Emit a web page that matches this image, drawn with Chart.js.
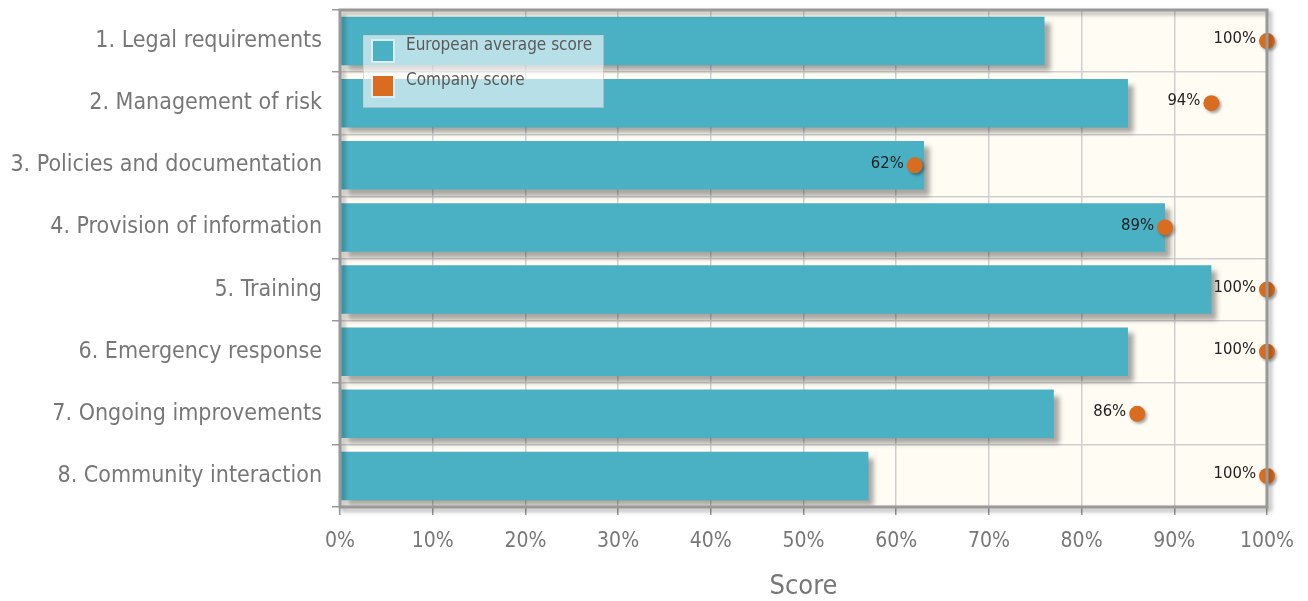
<!DOCTYPE html>
<html>
<head>
<meta charset="utf-8">
<script src="https://cdn.jsdelivr.net/npm/chart.js@4/dist/chart.umd.min.js"></script>
<style>
  html, body { margin: 0; padding: 0; background: #fff; }
  #wrap { width: 1308px; height: 601px; }
</style>
</head>
<body>
<div id="wrap"><canvas id="myChart"></canvas></div>
<script>
const categories = [
  "1. Legal requirements",
  "2. Management of risk",
  "3. Policies and documentation",
  "4. Provision of information",
  "5. Training",
  "6. Emergency response",
  "7. Ongoing improvements",
  "8. Community interaction"
];
const europeanAvg = [76, 85, 63, 89, 94, 85, 77, 57];
const companyScore = [100, 94, 62, 89, 100, 100, 86, 100];
const seriesNames = ["European average score", "Company score"];

const teal = "#4ab0c4";
const orange = "#d96c1e";
const fontName = "'DejaVu Sans Condensed', 'DejaVu Sans', sans-serif";

// cream background + frame for the plot
const plotFrame = {
  id: "plotFrame",
  beforeDraw(chart){
    const a = chart.chartArea, ctx = chart.ctx;
    ctx.save();
    ctx.fillStyle = "#fffcf4";
    ctx.fillRect(a.left, a.top, a.right - a.left, a.bottom - a.top);
    ctx.restore();
  },
  afterDatasetsDraw(chart){
    const a = chart.chartArea, ctx = chart.ctx;
    ctx.save();
    ctx.shadowColor = "rgba(0,0,0,0.35)";
    ctx.shadowOffsetX = 3;
    ctx.shadowOffsetY = 3;
    ctx.shadowBlur = 4;
    ctx.strokeStyle = "#999";
    ctx.lineWidth = 3;
    ctx.strokeRect(a.left, a.top, a.right - a.left, a.bottom - a.top);
    ctx.restore();
  }
};

// drop shadow under bars and dots
const shadows = {
  id: "shadows",
  beforeDatasetDraw(chart, args){
    const ctx = chart.ctx;
    ctx.save();
    ctx.shadowColor = "rgba(0,0,0,0.35)";
    ctx.shadowOffsetX = args.index == 0 ? 6 : 2;
    ctx.shadowOffsetY = args.index == 0 ? 6 : 2;
    ctx.shadowBlur = args.index == 0 ? 5 : 3;
  },
  afterDatasetDraw(chart){
    chart.ctx.restore();
  }
};

// value labels next to company dots
const dotLabels = {
  id: "dotLabels",
  afterDatasetsDraw(chart){
    const ctx = chart.ctx;
    const meta = chart.getDatasetMeta(1);
    ctx.save();
    ctx.font = "16.5px " + fontName;
    ctx.fillStyle = "#222";
    ctx.textAlign = "right";
    ctx.textBaseline = "middle";
    meta.data.forEach((pt, i) => {
      ctx.fillText(companyScore[i] + "%", pt.x - 11, pt.y - 2);
    });
    ctx.restore();
  }
};

// legend box inside the plot
const innerLegend = {
  id: "innerLegend",
  afterDraw(chart){
    const a = chart.chartArea, ctx = chart.ctx;
    const x = a.left + 23, y = a.top + 25;
    ctx.save();
    ctx.fillStyle = "rgba(255,255,255,0.6)";
    ctx.fillRect(x, y, 240, 72);
    ctx.strokeStyle = "rgba(200,200,200,0.7)";
    ctx.lineWidth = 1;
    ctx.strokeRect(x + 0.5, y + 0.5, 240, 72);
    const cols = [teal, orange];
    ctx.font = "17px " + fontName;
    ctx.textBaseline = "middle";
    chart.data.datasets.forEach((ds, i) => {
      const yy = y + 5 + i * 35;
      ctx.fillStyle = "rgba(255,255,255,0.5)";
      ctx.fillRect(x + 8, yy - 1, 24, 24);
      ctx.fillStyle = cols[i];
      ctx.fillRect(x + 10, yy + 1, 20, 20);
      ctx.fillStyle = "#5a5a5a";
      ctx.fillText(ds.label, x + 43, yy + 6);
    });
    ctx.restore();
  }
};

new Chart("myChart", {
  type: "bar",
  data: {
    labels: categories,
    datasets: [{
      label: seriesNames[0],
      data: europeanAvg,
      backgroundColor: teal,
      barPercentage: 0.78,
      categoryPercentage: 1,
      order: 2
    }, {
      type: "line",
      label: seriesNames[1],
      data: companyScore,
      indexAxis: "y",
      showLine: false,
      pointRadius: 8,
      pointHoverRadius: 8,
      pointBackgroundColor: orange,
      pointBorderWidth: 0,
      borderColor: orange,
      clip: false,
      order: 1
    }]
  },
  options: {
    indexAxis: "y",
    responsive: true,
    maintainAspectRatio: false,
    animation: false,
    layout: { padding: { top: 10, right: 40, left: 0, bottom: 0 } },
    plugins: {
      legend: { display: false },
      tooltip: { enabled: false }
    },
    scales: {
      x: {
        min: 0,
        max: 100,
        ticks: {
          stepSize: 10,
          color: "#777",
          font: { family: fontName, size: 21 },
          padding: 14,
          callback: v => v + "%"
        },
        grid: { color: "#cfcfcf", tickColor: "#999", tickLength: 8, lineWidth: 1.5 },
        border: { display: false },
        title: {
          display: true,
          text: "Score",
          color: "#777",
          font: { family: fontName, size: 27 },
          padding: { top: 20, bottom: -2 }
        },
        afterFit(scale){ scale.height = 94; }
      },
      y: {
        ticks: {
          color: "#777",
          font: { family: fontName, size: 23 },
          padding: 10
        },
        grid: { offset: true, color: "#cfcfcf", tickColor: "#999", tickLength: 8, lineWidth: 1.5 },
        border: { display: false },
        afterFit(scale){
          scale.width = 340;
          scale.paddingTop = 0;
          scale.paddingBottom = 0;
        }
      }
    }
  },
  plugins: [plotFrame, shadows, dotLabels, innerLegend]
});
</script>
</body>
</html>
